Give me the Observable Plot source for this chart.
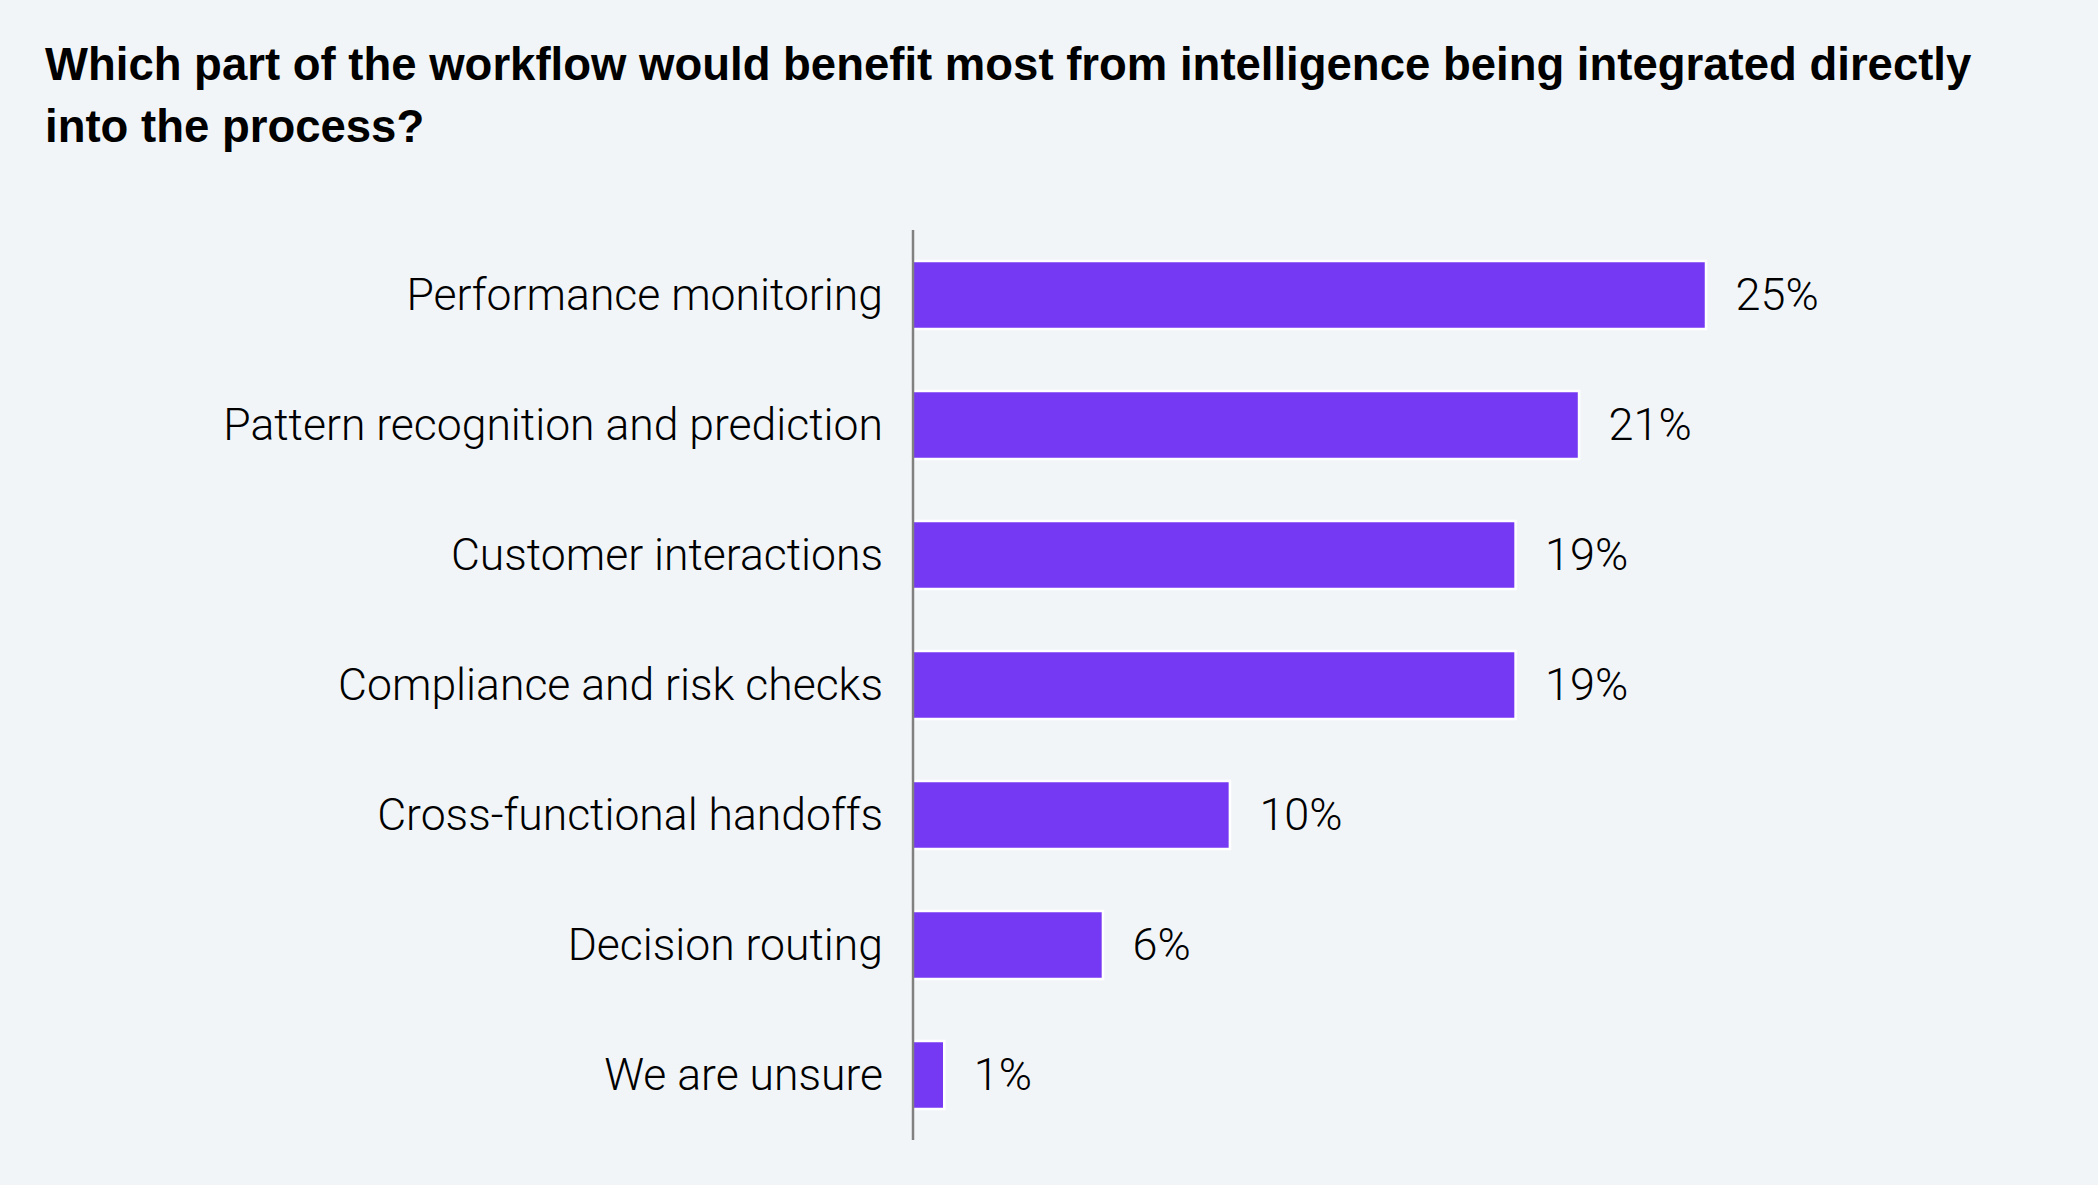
<!DOCTYPE html>
<html>
<head>
<meta charset="utf-8">
<script src="https://cdn.jsdelivr.net/npm/d3@7"></script>
<script src="https://cdn.jsdelivr.net/npm/@observablehq/plot@0.6"></script>
<style>
  html, body { margin: 0; padding: 0; background: #F2F5F8; }
  body { width: 2098px; height: 1185px; overflow: hidden; }
  #title {
    font-family: "Liberation Sans", Arial, sans-serif;
    font-weight: bold;
    font-size: 45.5px;
    line-height: 62px;
    color: #000;
    padding: 34px 0 0 45px;
    height: 146px;
    box-sizing: content-box;
    white-space: nowrap;
  }
  #chart svg { display: block; }
</style>
</head>
<body>
<div id="title">Which part of the workflow would benefit most from intelligence being integrated directly<br>into the process?</div>
<div id="chart"></div>
<script>
const categories = [
  "Performance monitoring",
  "Pattern recognition and prediction",
  "Customer interactions",
  "Compliance and risk checks",
  "Cross-functional handoffs",
  "Decision routing",
  "We are unsure"
];
const values = [25, 21, 19, 19, 10, 6, 1];
const valueLabels = ["25%", "21%", "19%", "19%", "10%", "6%", "1%"];

const data = categories.map((c, i) => ({category: c, value: values[i], label: valueLabels[i]}));

const chart = Plot.plot({
  width: 2098,
  height: 1005,
  marginTop: 50,
  marginBottom: 45,
  marginLeft: 912.5,
  marginRight: 392,
  style: {background: "transparent", fontFamily: "Roboto, 'Liberation Sans', sans-serif"},
  x: {domain: [0, 25], axis: null},
  y: {domain: categories, paddingInner: 0.48, paddingOuter: 0.24, axis: null},
  marks: [
    Plot.barX(data, {x: "value", y: "category", fill: "#7639F3", stroke: "#ffffff", strokeWidth: 2.5}),
    Plot.ruleX([0], {stroke: "#808080", strokeWidth: 2.5}),
    Plot.axisY({tickSize: 0, tickPadding: 30, fontSize: 44.5, fontWeight: 300, fill: "#000", label: null}),
    Plot.text(data, {x: "value", y: "category", text: "label", textAnchor: "start", dx: 29, fontSize: 45, fontWeight: 300, fill: "#000"})
  ]
});
document.getElementById("chart").appendChild(chart);
</script>
</body>
</html>
